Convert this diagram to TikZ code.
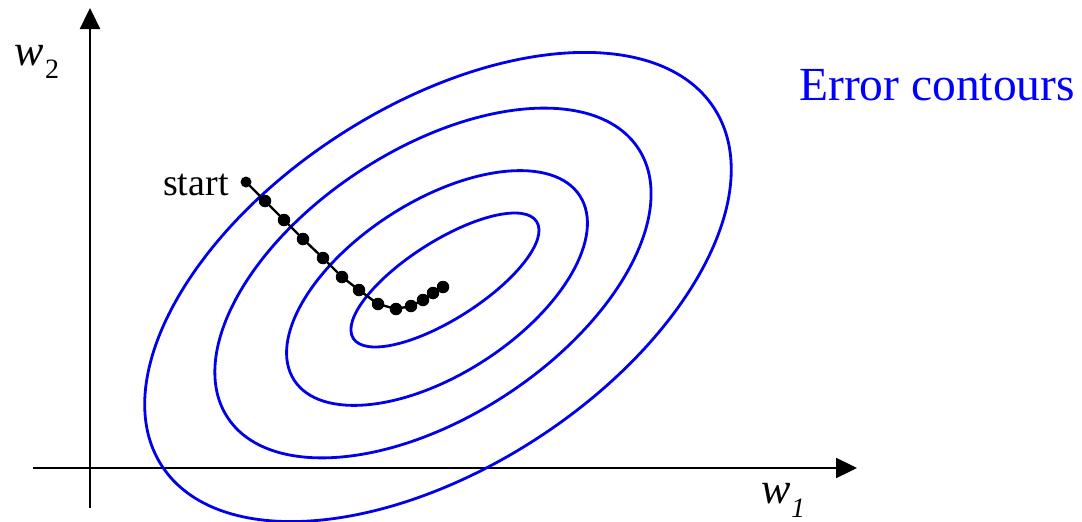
\documentclass[tikz,border=0pt]{standalone}
\usepackage{fontspec}
\setmainfont{Liberation Serif}
\usetikzlibrary{arrows.meta}
\definecolor{contourblue}{RGB}{0,0,235}
\definecolor{textblue}{RGB}{0,0,255}
\begin{document}
\begin{tikzpicture}[x=1pt,y=-1pt,
  axis/.style={line width=2.3pt,-{Triangle[length=21pt,width=20pt]}},
  contour/.style={contourblue,line width=2.8pt},
  dotnode/.style={circle,fill=black,inner sep=0pt,minimum size=12.5pt},
  startdot/.style={circle,fill=black,inner sep=0pt,minimum size=11pt},
  pathline/.style={black,line width=2.4pt},
  lbl/.style={inner sep=0pt,anchor=base west}]
\useasboundingbox (0,0) rectangle (1082,522);
% axes
\coordinate (yb) at (90,508);
\coordinate (yt) at (90,8);
\coordinate (xl) at (33,468);
\coordinate (xr) at (857,468);
\draw[axis] (yb) -- (yt);
\draw[axis] (xl) -- (xr);
% contours
\coordinate (c1) at (438,287);
\coordinate (c2) at (433,283);
\coordinate (c3) at (437,288);
\coordinate (c4) at (445,280);
\draw[contour,rotate around={32.9:(c1)}] (c1) ellipse [x radius=329, y radius=181];
\draw[contour,rotate around={33.2:(c2)}] (c2) ellipse [x radius=245.5, y radius=133.7];
\draw[contour,rotate around={32.8:(c3)}] (c3) ellipse [x radius=170, y radius=86.6];
\draw[contour,rotate around={32.5:(c4)}] (c4) ellipse [x radius=108.7, y radius=38.9];
% descent path
\node[startdot] (p1) at (246,182) {};
\node[dotnode] (p2) at (265,201) {};
\node[dotnode] (p3) at (284,220) {};
\node[dotnode] (p4) at (303,239) {};
\node[dotnode] (p5) at (323,258) {};
\node[dotnode] (p6) at (342,277) {};
\node[dotnode] (p7) at (359,290) {};
\node[dotnode] (p8) at (378,304) {};
\node[dotnode] (p9) at (396,309) {};
\node[dotnode] (p10) at (411,306) {};
\node[dotnode] (p11) at (423,300) {};
\node[dotnode] (p12) at (433,293) {};
\node[dotnode] (p13) at (443,287) {};
\draw[pathline] (p1.center) -- (p2.center) -- (p3.center) -- (p4.center) -- (p5.center)
  -- (p6.center) -- (p7.center) -- (p8.center) -- (p9.center) -- (p10.center)
  -- (p11.center) -- (p12.center) -- (p13.center);
% labels
\node[lbl] (start) at (163,195) {\fontsize{38}{42}\selectfont start};
\node[lbl,textblue] (title) at (799,100) {\fontsize{47.5}{52}\selectfont Error contours};
\node[lbl] (w2) at (14,65) {\fontsize{44}{48}\selectfont\itshape w};
\node[lbl] (w2s) at (45,78) {\fontsize{28}{30}\selectfont 2};
\node[lbl] (w1) at (761,503) {\fontsize{44}{48}\selectfont\itshape w};
\node[lbl] (w1s) at (791,517) {\fontsize{28}{30}\selectfont\itshape 1};
\end{tikzpicture}
\end{document}
